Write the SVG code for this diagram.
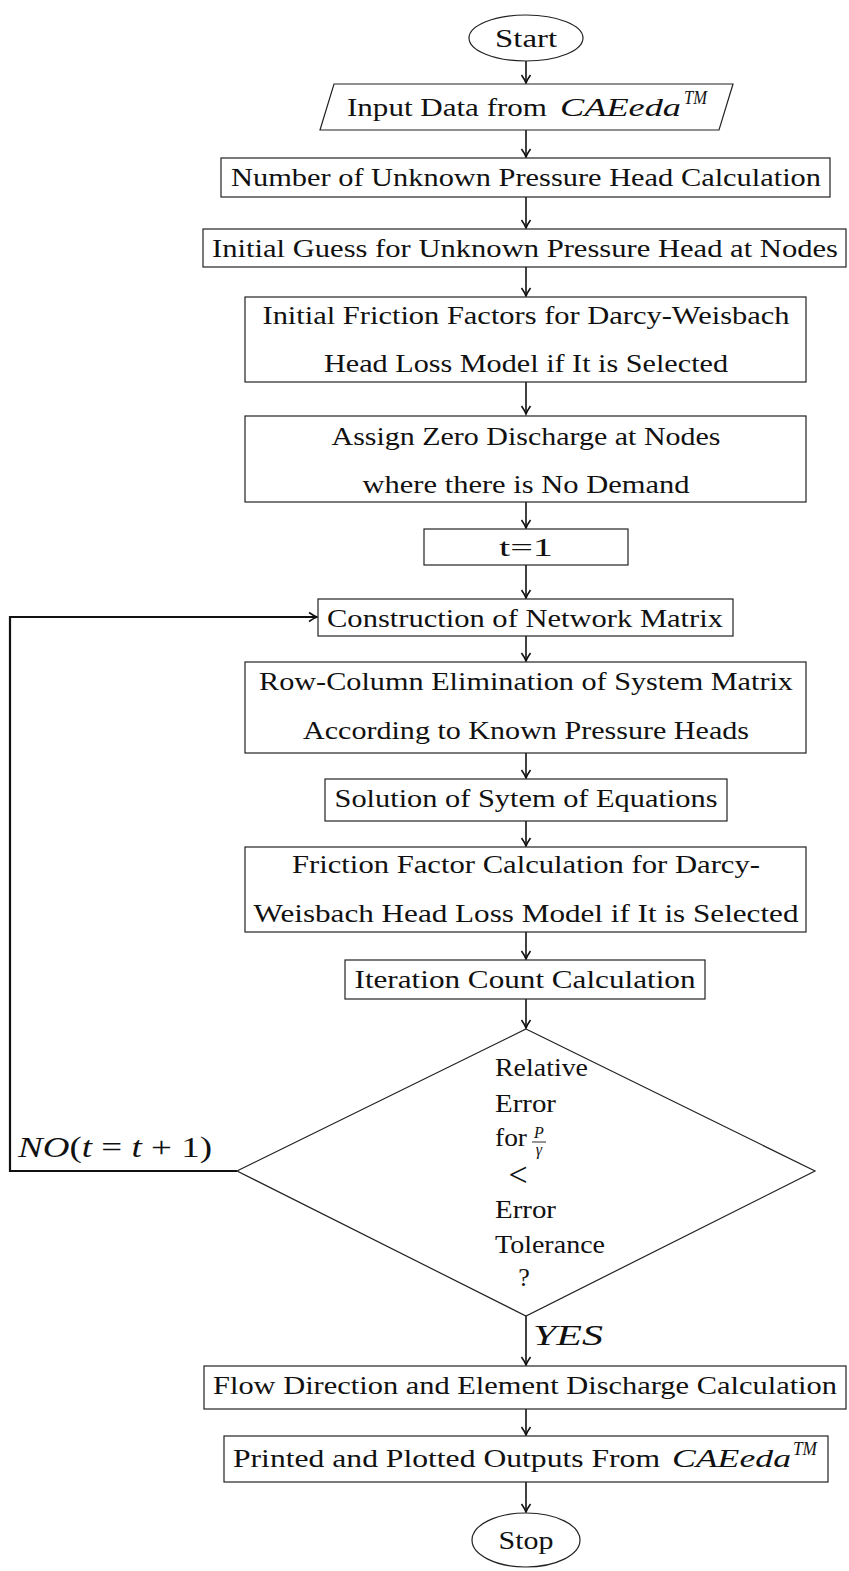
<svg xmlns="http://www.w3.org/2000/svg" width="849" height="1571" viewBox="0 0 849 1571">
<style>
.n{fill:#fff;stroke:#222;stroke-width:1.2}
.t{font-family:"Liberation Serif","Times New Roman",serif;font-size:26px;fill:#111}
.c{text-anchor:middle}
.i{font-style:italic}
.e{fill:none;stroke:#111;stroke-width:1.6}
.lp{fill:none;stroke:#111;stroke-width:2.2}
</style>
<defs>
<marker id="ah" markerUnits="userSpaceOnUse" markerWidth="14" markerHeight="14" refX="11" refY="7" orient="auto">
<path d="M3,2.5 Q8,6 11,7 Q8,8 3,11.5" fill="none" stroke="#111" stroke-width="1.6"/>
</marker>
</defs>
<rect width="849" height="1571" fill="#fff"/>
<g id="connectors">
<line class="e" x1="526" y1="61" x2="526" y2="83" marker-end="url(#ah)"/>
<line class="e" x1="526" y1="130" x2="526" y2="157" marker-end="url(#ah)"/>
<line class="e" x1="526" y1="197" x2="526" y2="228" marker-end="url(#ah)"/>
<line class="e" x1="526" y1="267" x2="526" y2="296" marker-end="url(#ah)"/>
<line class="e" x1="526" y1="382" x2="526" y2="414" marker-end="url(#ah)"/>
<line class="e" x1="526" y1="502" x2="526" y2="528" marker-end="url(#ah)"/>
<line class="e" x1="526" y1="565" x2="526" y2="598" marker-end="url(#ah)"/>
<line class="e" x1="526" y1="636" x2="526" y2="661" marker-end="url(#ah)"/>
<line class="e" x1="526" y1="753" x2="526" y2="778" marker-end="url(#ah)"/>
<line class="e" x1="526" y1="821" x2="526" y2="846" marker-end="url(#ah)"/>
<line class="e" x1="526" y1="932" x2="526" y2="959" marker-end="url(#ah)"/>
<line class="e" x1="526" y1="999" x2="526" y2="1028" marker-end="url(#ah)"/>
<line class="e" x1="526" y1="1316" x2="526" y2="1365" marker-end="url(#ah)"/>
<line class="e" x1="526" y1="1409" x2="526" y2="1435" marker-end="url(#ah)"/>
<line class="e" x1="526" y1="1482" x2="526" y2="1512" marker-end="url(#ah)"/>
<polyline class="lp" points="237,1171 10,1171 10,617 317,617" marker-end="url(#ah)"/>
<text class="t i" x="18" y="1157" style="font-size:29px" textLength="194" lengthAdjust="spacingAndGlyphs">NO<tspan font-style="normal">(</tspan>t <tspan font-style="normal">= </tspan>t <tspan font-style="normal">+ 1)</tspan></text>
<text class="t i" x="533" y="1345" style="font-size:29px" textLength="70" lengthAdjust="spacingAndGlyphs">YES</text>
</g>
<g id="start">
<ellipse class="n" cx="526" cy="38" rx="57" ry="23"/>
<text class="t c" x="526" y="47" textLength="62" lengthAdjust="spacingAndGlyphs">Start</text>
</g>
<g id="input">
<polygon class="n" points="334,84 733,84 719,130 320,130"/>
<text class="t" x="347" y="116" textLength="200" lengthAdjust="spacingAndGlyphs">Input Data from</text>
<text class="t i" x="560" y="116" textLength="121" lengthAdjust="spacingAndGlyphs">CAEeda</text>
<text class="t i" x="684" y="104" style="font-size:18px" textLength="23" lengthAdjust="spacingAndGlyphs">TM</text>
</g>
<g id="n1">
<rect class="n" x="221" y="158" width="609" height="39"/>
<text class="t c" x="526" y="186" textLength="590" lengthAdjust="spacingAndGlyphs">Number of Unknown Pressure Head Calculation</text>
</g>
<g id="n2">
<rect class="n" x="203" y="229" width="643" height="38"/>
<text class="t c" x="525" y="257" textLength="626" lengthAdjust="spacingAndGlyphs">Initial Guess for Unknown Pressure Head at Nodes</text>
</g>
<g id="n3">
<rect class="n" x="245" y="297" width="561" height="85"/>
<text class="t c" x="526" y="324" textLength="527" lengthAdjust="spacingAndGlyphs">Initial Friction Factors for Darcy-Weisbach</text>
<text class="t c" x="526" y="372" textLength="404" lengthAdjust="spacingAndGlyphs">Head Loss Model if It is Selected</text>
</g>
<g id="n4">
<rect class="n" x="245" y="416" width="561" height="86"/>
<text class="t c" x="526" y="445" textLength="389" lengthAdjust="spacingAndGlyphs">Assign Zero Discharge at Nodes</text>
<text class="t c" x="526" y="493" textLength="327" lengthAdjust="spacingAndGlyphs">where there is No Demand</text>
</g>
<g id="n5">
<rect class="n" x="424" y="529" width="204" height="36"/>
<text class="t c" x="526" y="556" textLength="54" lengthAdjust="spacingAndGlyphs">t=1</text>
</g>
<g id="n6">
<rect class="n" x="318" y="599" width="415" height="37"/>
<text class="t c" x="525" y="627" textLength="396" lengthAdjust="spacingAndGlyphs">Construction of Network Matrix</text>
</g>
<g id="n7">
<rect class="n" x="245" y="662" width="561" height="91"/>
<text class="t c" x="526" y="690" textLength="534" lengthAdjust="spacingAndGlyphs">Row-Column Elimination of System Matrix</text>
<text class="t c" x="526" y="739" textLength="446" lengthAdjust="spacingAndGlyphs">According to Known Pressure Heads</text>
</g>
<g id="n8">
<rect class="n" x="325" y="779" width="402" height="42"/>
<text class="t c" x="526" y="807" textLength="383" lengthAdjust="spacingAndGlyphs">Solution of Sytem of Equations</text>
</g>
<g id="n9">
<rect class="n" x="245" y="847" width="561" height="85"/>
<text class="t c" x="526" y="873" textLength="468" lengthAdjust="spacingAndGlyphs">Friction Factor Calculation for Darcy-</text>
<text class="t c" x="526" y="922" textLength="545" lengthAdjust="spacingAndGlyphs">Weisbach Head Loss Model if It is Selected</text>
</g>
<g id="n10">
<rect class="n" x="345" y="960" width="360" height="39"/>
<text class="t c" x="525" y="988" textLength="341" lengthAdjust="spacingAndGlyphs">Iteration Count Calculation</text>
</g>
<g id="decision">
<polygon class="n" points="526,1029 815,1171 526,1316 237,1171"/>
<text class="t" x="495" y="1076" textLength="93" lengthAdjust="spacingAndGlyphs">Relative</text>
<text class="t" x="495" y="1112" textLength="61" lengthAdjust="spacingAndGlyphs">Error</text>
<text class="t" x="495" y="1146" textLength="32" lengthAdjust="spacingAndGlyphs">for</text>
<text class="t i c" x="539" y="1138" style="font-size:16px">P</text>
<line x1="532" y1="1142" x2="546" y2="1142" stroke="#111" stroke-width="0.9"/>
<text class="t i c" x="539" y="1155" style="font-size:16px">γ</text>
<text class="t c" x="518" y="1186" style="font-size:34px">&lt;</text>
<text class="t" x="495" y="1218" textLength="61" lengthAdjust="spacingAndGlyphs">Error</text>
<text class="t" x="495" y="1253" textLength="110" lengthAdjust="spacingAndGlyphs">Tolerance</text>
<text class="t c" x="524" y="1286">?</text>
</g>
<g id="n11">
<rect class="n" x="204" y="1366" width="642" height="43"/>
<text class="t c" x="525" y="1394" textLength="624" lengthAdjust="spacingAndGlyphs">Flow Direction and Element Discharge Calculation</text>
</g>
<g id="n12">
<rect class="n" x="224" y="1436" width="604" height="46"/>
<text class="t" x="233" y="1467" textLength="427" lengthAdjust="spacingAndGlyphs">Printed and Plotted Outputs From</text>
<text class="t i" x="672" y="1467" textLength="119" lengthAdjust="spacingAndGlyphs">CAEeda</text>
<text class="t i" x="793" y="1455" style="font-size:18px" textLength="24" lengthAdjust="spacingAndGlyphs">TM</text>
</g>
<g id="stop">
<ellipse class="n" cx="526" cy="1540" rx="54" ry="27"/>
<text class="t c" x="526" y="1549" textLength="55" lengthAdjust="spacingAndGlyphs">Stop</text>
</g>
</svg>
